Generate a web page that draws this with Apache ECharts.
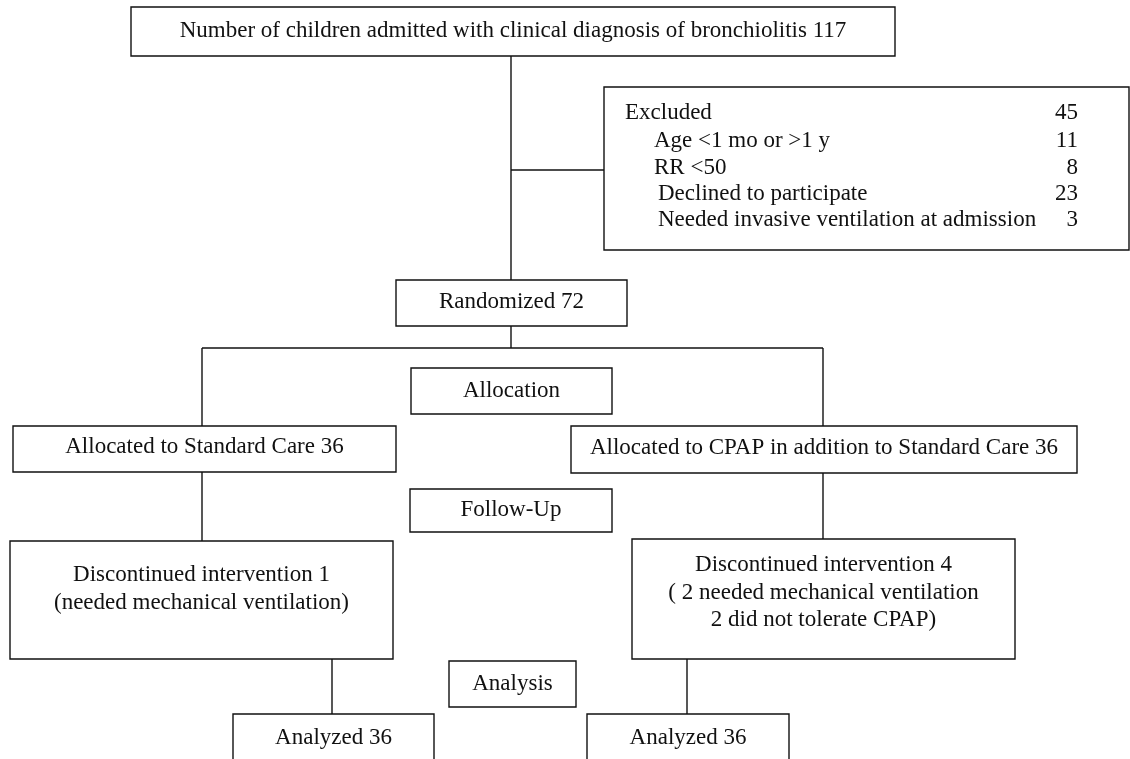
<!DOCTYPE html>
<html>
<head>
<meta charset="utf-8">
<script src="https://cdn.jsdelivr.net/npm/echarts@6/dist/echarts.min.js"></script>
<style>
  html, body { margin: 0; padding: 0; background: #fff; }
  #main { width: 1130px; height: 759px; }
</style>
</head>
<body>
<div id="main"></div>
<script>
// counts of the flow
const admittedCount = 117;
const excludedTotal = 45;
const excludedReasons = ['Age <1 mo or >1 y', 'RR <50', 'Declined to participate', 'Needed invasive ventilation at admission'];
const excludedCounts = [11, 8, 23, 3];
const randomizedCount = 72;
const armNames = ['Standard Care', 'CPAP in addition to Standard Care'];
const allocatedCounts = [36, 36];
const discontinuedCounts = [1, 4];
const discontinuedNotes = [
  ['(needed mechanical ventilation)'],
  ['( 2 needed mechanical ventilation', '2 did not tolerate CPAP)']
];
const analyzedCounts = [36, 36];
const stageNames = ['Allocation', 'Follow-Up', 'Analysis'];

// layout (in page pixels, through hidden axes)
const boxRects = [
  [131, 7, 895, 56],     // admitted
  [396, 280, 627, 326],  // randomized
  [411, 368, 612, 414],  // allocation
  [13, 426, 396, 472],   // arm 1
  [571, 426, 1077, 473], // arm 2
  [410, 489, 612, 532],  // follow-up
  [10, 541, 393, 659],   // discontinued 1
  [632, 539, 1015, 659], // discontinued 2
  [449, 661, 576, 707],  // analysis
  [233, 714, 434, 775],  // analyzed 1
  [587, 714, 789, 775]   // analyzed 2
];
const boxTexts = [
  ['Number of children admitted with clinical diagnosis of bronchiolitis ' + admittedCount],
  ['Randomized ' + randomizedCount],
  [stageNames[0]],
  ['Allocated to ' + armNames[0] + ' ' + allocatedCounts[0]],
  ['Allocated to ' + armNames[1] + ' ' + allocatedCounts[1]],
  [stageNames[1]],
  ['Discontinued intervention ' + discontinuedCounts[0]].concat(discontinuedNotes[0]),
  ['Discontinued intervention ' + discontinuedCounts[1]].concat(discontinuedNotes[1]),
  [stageNames[2]],
  ['Analyzed ' + analyzedCounts[0]],
  ['Analyzed ' + analyzedCounts[1]]
];
// y of first text line for each box
const textTop = [31, 302, 391, 447, 448, 510, 575, 565, 684, 738, 738];

const excludedRect = [604, 87, 1129, 250];
const excludedRowY = [113, 141, 168, 194, 220];
const excludedRowX = [625, 654, 654, 658, 658];

const connectors = [
  [511, 56, 511, 280],
  [511, 170, 604, 170],
  [511, 326, 511, 348],
  [202, 348, 823, 348],
  [202, 348, 202, 426],
  [823, 348, 823, 426],
  [202, 472, 202, 541],
  [823, 473, 823, 539],
  [332, 659, 332, 714],
  [687, 659, 687, 714]
];

const FONT = '23px "Liberation Serif", "Times New Roman", serif';
const INK = '#111';
const LINE_H = 27.5;

const chart = echarts.init(document.getElementById('main'), null, { renderer: 'canvas' });

function renderBox(params, api) {
  const i = params.dataIndex;
  const p0 = api.coord([api.value(0), api.value(1)]);
  const p1 = api.coord([api.value(2), api.value(3)]);
  const lines = boxTexts[i];
  const children = [{
    type: 'rect',
    shape: { x: p0[0], y: p0[1], width: p1[0] - p0[0], height: p1[1] - p0[1] },
    style: { fill: '#fff', stroke: INK, lineWidth: 1.4 }
  }];
  lines.forEach((t, k) => {
    const c = api.coord([(api.value(0) + api.value(2)) / 2, textTop[i] + k * LINE_H]);
    children.push({
      type: 'text',
      style: { text: t, x: c[0], y: c[1], font: FONT, fill: INK, align: 'center', verticalAlign: 'middle' }
    });
  });
  return { type: 'group', children: children };
}

function renderExcluded(params, api) {
  const p0 = api.coord([excludedRect[0], excludedRect[1]]);
  const p1 = api.coord([excludedRect[2], excludedRect[3]]);
  const labels = ['Excluded'].concat(excludedReasons);
  const counts = [excludedTotal].concat(excludedCounts);
  const children = [{
    type: 'rect',
    shape: { x: p0[0], y: p0[1], width: p1[0] - p0[0], height: p1[1] - p0[1] },
    style: { fill: '#fff', stroke: INK, lineWidth: 1.4 }
  }];
  labels.forEach((t, k) => {
    const a = api.coord([excludedRowX[k], excludedRowY[k]]);
    const b = api.coord([1078, excludedRowY[k]]);
    children.push({
      type: 'text',
      style: { text: t, x: a[0], y: a[1], font: FONT, fill: INK, align: 'left', verticalAlign: 'middle' }
    });
    children.push({
      type: 'text',
      style: { text: String(counts[k]), x: b[0], y: b[1], font: FONT, fill: INK, align: 'right', verticalAlign: 'middle' }
    });
  });
  return { type: 'group', children: children };
}

function renderLink(params, api) {
  const a = api.coord([api.value(0), api.value(1)]);
  const b = api.coord([api.value(2), api.value(3)]);
  return {
    type: 'line',
    shape: { x1: a[0], y1: a[1], x2: b[0], y2: b[1] },
    style: { stroke: INK, lineWidth: 1.4 }
  };
}

const option = {
  animation: false,
  backgroundColor: '#fff',
  grid: { left: 0, right: 0, top: 0, bottom: 0 },
  xAxis: { type: 'value', min: 0, max: 1130, show: false },
  yAxis: { type: 'value', min: 0, max: 759, inverse: true, show: false },
  series: [
    {
      type: 'custom',
      name: 'links',
      renderItem: renderLink,
      data: connectors,
      z: 1
    },
    {
      type: 'custom',
      name: 'boxes',
      renderItem: renderBox,
      data: boxRects,
      z: 2
    },
    {
      type: 'custom',
      name: 'excluded',
      renderItem: renderExcluded,
      data: [excludedRect],
      z: 2
    }
  ]
};

chart.setOption(option);
</script>
</body>
</html>
